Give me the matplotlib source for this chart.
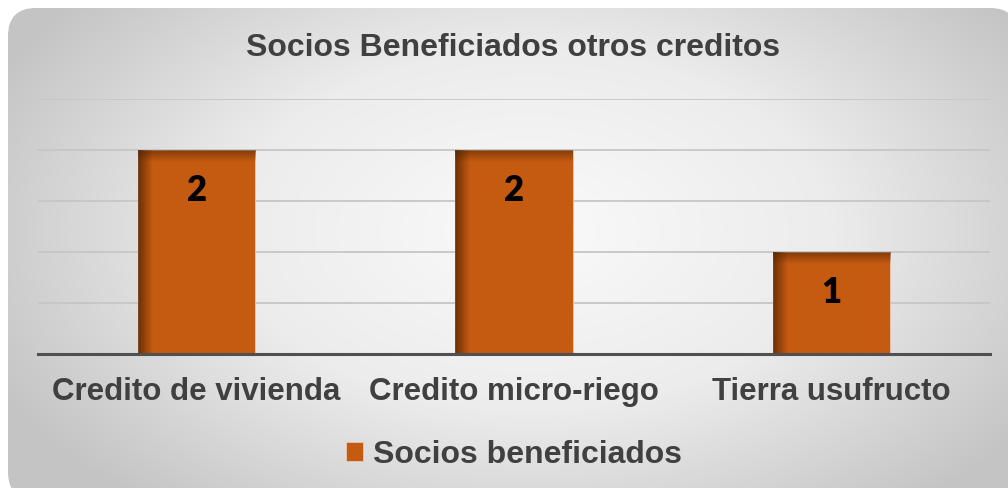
import numpy as np
import matplotlib

matplotlib.use("Agg")
import matplotlib.pyplot as plt
from matplotlib.patches import FancyBboxPatch
from matplotlib.colors import LinearSegmentedColormap

categories = ["Credito de vivienda", "Credito micro-riego", "Tierra usufructo"]
socios = [2, 2, 1]
series_name = "Socios beneficiados"
title = "Socios Beneficiados otros creditos"

BAR_COLOR = "#C55A11"
TEXT_GRAY = "#404040"
W, H = 1008, 488

fig = plt.figure(figsize=(W / 100, H / 100), dpi=100, facecolor="white")

# background panel with radial gradient and rounded corners
bg = fig.add_axes([0, 0, 1, 1])
bg.set_xlim(0, W)
bg.set_ylim(H, 0)
bg.axis("off")
shadow = FancyBboxPatch((10, 10), 1010, 492, boxstyle="round,pad=0,rounding_size=28",
                        facecolor="#bdbdbd", edgecolor="none", alpha=0.6, zorder=0)
bg.add_patch(shadow)
panel = FancyBboxPatch((8, 8), 1010, 492, boxstyle="round,pad=0,rounding_size=28",
                       facecolor="none", edgecolor="none", zorder=1)
bg.add_patch(panel)
yy, xx = np.mgrid[0:H, 0:W]
r = np.sqrt(((xx - 530) / 600.0) ** 2 + ((yy - 230) / 360.0) ** 2)
r = np.clip(r, 0, 1)
grad_cmap = LinearSegmentedColormap.from_list("bg", ["#fafafa", "#ececec", "#c4c4c4"])
im = bg.imshow(r, cmap=grad_cmap, extent=(0, W, H, 0), vmin=0, vmax=1,
               interpolation="bilinear", zorder=2)
im.set_clip_path(panel)

# chart area
ax = fig.add_axes([38 / W, 1 - 354 / H, 952 / W, 255 / H])
ax.patch.set_alpha(0)
x = np.arange(len(categories))
bars = ax.bar(x, socios, width=0.37, color=BAR_COLOR, zorder=3, edgecolor="#e6c9b5", linewidth=0.6)

ax.set_xlim(-0.5, len(categories) - 0.5)
ax.set_ylim(0, 2.5)
ax.set_yticks(np.arange(0, 2.51, 0.5))
ax.yaxis.grid(True, color="#c6c6c6", linewidth=1.3, zorder=0)
ax.tick_params(axis="y", left=False, labelleft=False)
ax.tick_params(axis="x", bottom=False, pad=13)
for side in ["top", "right", "left"]:
    ax.spines[side].set_visible(False)
ax.spines["bottom"].set_color("#505050")
ax.spines["bottom"].set_linewidth(2.2)
ax.spines["bottom"].set_zorder(5)
ax.set_xticks(x)
ax.set_xticklabels(categories, fontsize=22.5, fontweight="bold", color=TEXT_GRAY,
                   family="Liberation Sans")

# inner shadow on bars (left and top edges)
shade = LinearSegmentedColormap.from_list("sh", [(0.3, 0.13, 0.0, 0.75), (0.3, 0.13, 0.0, 0.0)])
for b in bars:
    bx, bw, bh = b.get_x(), b.get_width(), b.get_height()
    left = ax.imshow(np.linspace(0, 1, 50)[None, :], cmap=shade, aspect="auto",
                     extent=(bx, bx + bw * 0.12, 0, bh), zorder=4, interpolation="bilinear")
    left.set_clip_path(b)
    top = ax.imshow(np.linspace(0, 1, 50)[:, None], cmap=shade, aspect="auto",
                    extent=(bx, bx + bw, bh - 0.12, bh), origin="upper", zorder=4,
                    interpolation="bilinear", alpha=0.8)
    top.set_clip_path(b)

for b, v in zip(bars, socios):
    ax.annotate(str(v), (b.get_x() + b.get_width() / 2, v), xytext=(0, -29),
                textcoords="offset points", ha="center", va="center",
                fontsize=25, fontweight="heavy", color="black", family="Lato", zorder=6)

fig.text(513 / W, 1 - 48 / H, title, ha="center", va="center", fontsize=23,
         fontweight="bold", color=TEXT_GRAY, family="Liberation Sans")

leg = ax.legend([bars[0]], [series_name], loc="center", bbox_to_anchor=(0.5, -0.395),
                frameon=False, prop={"family": "Liberation Sans", "weight": "bold", "size": 23},
                handlelength=0.55, handleheight=0.55, handletextpad=0.3)
for t in leg.get_texts():
    t.set_color(TEXT_GRAY)

fig.savefig("out.png", dpi=100, facecolor="white")
